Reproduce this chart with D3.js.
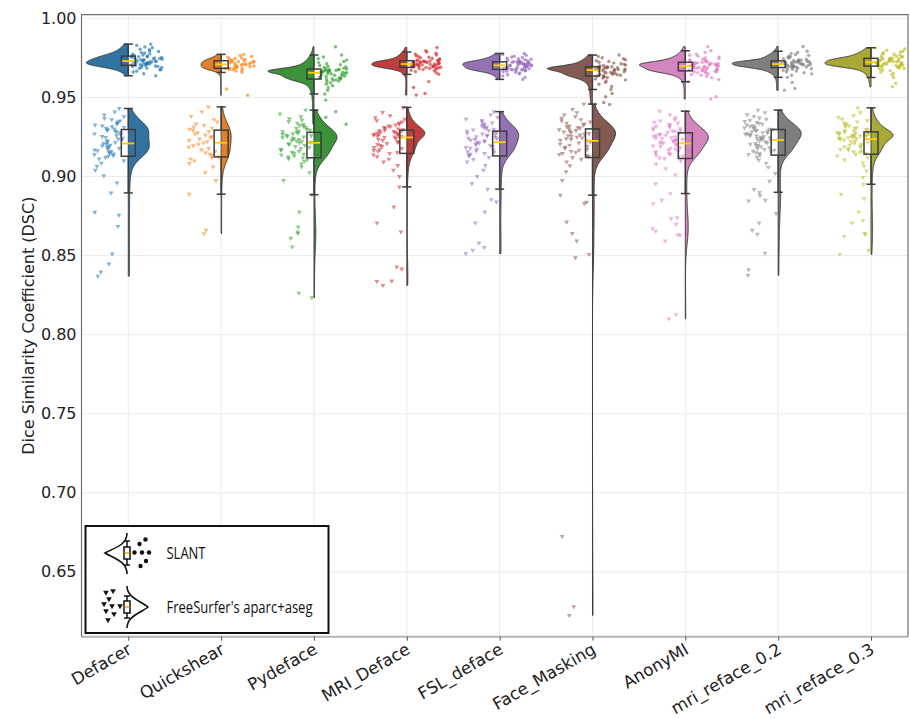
<!DOCTYPE html>
<html>
<head>
<meta charset="utf-8">
<script src="https://cdn.jsdelivr.net/npm/d3@7"></script>
<style>
body { margin: 0; background: #fff; }
text { font-family: "DejaVu Sans", sans-serif; }
</style>
</head>
<body>
<svg id="chart" width="910" height="719"></svg>
<script>
// categories + ticks
var methods = ["Defacer", "Quickshear", "Pydeface", "MRI_Deface", "FSL_deface",
               "Face_Masking", "AnonyMI", "mri_reface_0.2", "mri_reface_0.3"];
var yTicks = [0.65, 0.70, 0.75, 0.80, 0.85, 0.90, 0.95, 1.00];

// SLANT dice per subject (read off the cloud, approx)
var slantDefacer = [.9637,.9650,.9661,.9666,.9674,.9677,.9683,.9685,.9690,.9691,.9695,.9696,.9699,.9701,.9702,.9703,
  .9705,.9708,.9709,.9711,.9712,.9715,.9716,.9717,.9720,.9721,.9723,.9724,.9726,.9727,.9730,
  .9731,.9734,.9735,.9738,.9739,.9742,.9743,.9746,.9747,.9750,.9753,.9754,.9757,.9758,.9761,
  .9762,.9766,.9768,.9773,.9775,.9781,.9783,.9790,.9793,.9801,.9805,.9814,.9819,.9829,.9837];
var slantQuickshear = [.9514,.9553,.9658,.9666,.9671,.9675,.9678,.9680,.9682,.9683,.9684,
  .9687,.9689,.9692,.9694,.9697,.9699,.9702,.9704,.9706,.9709,
  .9711,.9713,.9716,.9718,.9720,.9722,.9725,.9727,.9729,.9732,
  .9734,.9737,.9740,.9743,.9746,.9750,.9754,.9759,.9765,.9772];
var slantPydeface = [.9330,.9375,.9410,.9483,.9522,.9545,.9562,.9574,.9584,.9592,.9599,.9604,.9608,.9611,.9614,.9616,
  .9619,.9621,.9624,.9627,.9629,.9632,.9635,.9637,.9640,.9643,.9645,.9648,.9651,.9653,.9656,
  .9657,.9659,.9661,.9662,.9664,.9665,.9667,.9668,.9670,.9671,.9673,.9674,.9676,.9677,.9679,
  .9682,.9685,.9689,.9693,.9697,.9702,.9707,.9713,.9720,.9727,.9736,.9745,.9756,.9768,.9820];
var slantMRIDeface = [.9515,.9525,.9563,.9600,.9646,.9656,.9663,.9668,.9672,.9676,.9679,.9682,.9684,.9686,.9688,.9690,
  .9691,.9693,.9694,.9696,.9697,.9699,.9700,.9701,.9703,.9704,.9706,.9707,.9708,.9710,.9711,
  .9712,.9714,.9715,.9717,.9718,.9720,.9721,.9722,.9724,.9725,.9727,.9728,.9729,.9731,.9732,
  .9734,.9737,.9740,.9743,.9746,.9750,.9754,.9758,.9763,.9768,.9774,.9780,.9787,.9795,.9816];
var slantFSL = [.9614,.9627,.9636,.9643,.9649,.9654,.9658,.9662,.9665,.9668,.9670,.9672,.9674,.9675,.9676,.9677,
  .9679,.9681,.9682,.9684,.9686,.9688,.9689,.9691,.9693,.9695,.9696,.9698,.9700,.9701,.9703,
  .9704,.9706,.9707,.9709,.9710,.9712,.9713,.9715,.9716,.9718,.9719,.9721,.9722,.9724,.9725,
  .9726,.9728,.9730,.9732,.9735,.9738,.9741,.9744,.9748,.9752,.9756,.9761,.9766,.9772,.9778];
var slantFaceMask = [.9455,.9468,.9504,.9525,.9550,.9569,.9583,.9595,.9604,.9611,.9617,.9622,.9626,.9630,.9633,.9635,
  .9638,.9640,.9643,.9645,.9648,.9650,.9653,.9655,.9658,.9660,.9663,.9665,.9668,.9670,.9673,
  .9674,.9676,.9677,.9679,.9680,.9681,.9683,.9684,.9686,.9687,.9688,.9690,.9691,.9693,.9694,
  .9696,.9699,.9702,.9705,.9709,.9713,.9717,.9722,.9727,.9732,.9738,.9744,.9751,.9759,.9768];
var slantAnonyMI = [.9490,.9504,.9599,.9614,.9625,.9633,.9640,.9645,.9650,.9654,.9657,.9660,.9662,.9664,.9666,.9668,
  .9670,.9672,.9674,.9676,.9678,.9680,.9682,.9684,.9686,.9688,.9690,.9692,.9694,.9696,.9698,
  .9700,.9701,.9703,.9704,.9706,.9708,.9709,.9711,.9712,.9714,.9716,.9717,.9719,.9720,.9722,
  .9724,.9727,.9730,.9733,.9737,.9741,.9745,.9750,.9755,.9761,.9767,.9774,.9784,.9795,.9820];
var slantReface2 = [.9546,.9557,.9595,.9627,.9640,.9649,.9656,.9662,.9667,.9671,.9675,.9678,.9681,.9684,.9687,.9689,
  .9691,.9692,.9694,.9695,.9697,.9698,.9700,.9701,.9703,.9704,.9706,.9707,.9708,.9710,.9711,
  .9712,.9714,.9715,.9716,.9718,.9719,.9720,.9722,.9723,.9724,.9726,.9727,.9728,.9730,.9731,
  .9733,.9736,.9739,.9742,.9745,.9749,.9753,.9757,.9761,.9766,.9771,.9777,.9784,.9792,.9822];
var slantReface3 = [.9567,.9590,.9626,.9642,.9653,.9661,.9668,.9674,.9679,.9683,.9687,.9690,.9692,.9694,.9696,.9698,
  .9700,.9701,.9703,.9704,.9706,.9708,.9709,.9711,.9712,.9714,.9716,.9717,.9719,.9720,.9722,
  .9724,.9725,.9727,.9729,.9730,.9732,.9734,.9735,.9737,.9739,.9740,.9742,.9744,.9745,.9747,
  .9749,.9752,.9755,.9758,.9761,.9765,.9769,.9773,.9777,.9782,.9787,.9792,.9798,.9806,.9814];

// FreeSurfer aparc+aseg dice
var fsDefacer = [.8370,.8396,.8447,.8510,.8685,.8755,.8774,
  .8896,.8960,.9005,.9040,.9065,.9085,.9100,.9112,.9121,.9128,
  .9133,.9138,.9143,.9148,.9153,.9158,.9163,.9168,.9173,.9179,.9184,.9189,.9194,.9199,.9204,.9209,
  .9215,.9220,.9226,.9231,.9237,.9242,.9248,.9253,.9259,.9264,.9270,.9275,.9281,.9286,.9292,.9297,
  .9301,.9305,.9310,.9315,.9320,.9326,.9332,.9338,.9345,.9352,.9360,.9368,.9378,.9390,.9408,.9430];
var fsQuickshear = [.8639,.8660,
  .8888,.8975,.9025,.9060,.9083,.9099,.9110,.9118,.9124,
  .9133,.9142,.9151,.9160,.9169,.9177,.9186,.9195,.9204,.9213,
  .9221,.9229,.9237,.9245,.9253,.9261,.9269,.9277,.9285,.9293,
  .9299,.9306,.9314,.9323,.9333,.9345,.9360,.9382,.9410,.9440];
var fsPydeface = [.8234,.8263,.8555,.8610,.8640,.8650,.8680,.8776,
  .8885,.8975,.9025,.9060,.9080,.9096,.9106,.9113,.9118,
  .9124,.9130,.9136,.9142,.9148,.9154,.9160,.9166,.9172,.9178,.9184,.9190,.9196,.9202,.9207,.9213,
  .9217,.9221,.9225,.9229,.9234,.9238,.9242,.9246,.9250,.9254,.9258,.9262,.9266,.9270,.9275,.9279,
  .9283,.9288,.9293,.9298,.9304,.9310,.9316,.9323,.9330,.9338,.9347,.9356,.9366,.9378,.9396,.9420];
var fsMRIDeface = [.8312,.8337,.8340,.8415,.8428,.8650,.8706,.8808,
  .8934,.9000,.9040,.9070,.9092,.9110,.9125,.9137,.9146,
  .9152,.9159,.9165,.9171,.9178,.9184,.9190,.9197,.9203,.9209,.9215,.9222,.9228,.9234,.9241,.9247,
  .9250,.9253,.9256,.9259,.9262,.9264,.9267,.9270,.9273,.9276,.9279,.9282,.9285,.9287,.9290,.9293,
  .9297,.9301,.9305,.9310,.9315,.9320,.9326,.9332,.9338,.9345,.9353,.9362,.9372,.9384,.9405,.9437];
var fsFSL = [.8513,.8534,.8551,.8580,.8706,.8776,.8839,.8854,
  .8920,.8956,.9000,.9040,.9070,.9092,.9108,.9121,.9130,
  .9135,.9141,.9146,.9152,.9157,.9162,.9168,.9173,.9179,.9184,.9190,.9195,.9201,.9206,.9212,.9217,
  .9221,.9226,.9230,.9234,.9239,.9243,.9248,.9252,.9256,.9261,.9265,.9269,.9274,.9278,.9283,.9287,
  .9291,.9295,.9299,.9304,.9309,.9314,.9320,.9326,.9332,.9339,.9346,.9354,.9363,.9374,.9390,.9410];
var fsFaceMask = [.6225,.6280,.6725,.8487,.8508,.8592,.8640,.8713,.8830,.8838,
  .8882,.8975,.9030,.9068,.9093,.9109,.9120,
  .9127,.9133,.9140,.9146,.9153,.9159,.9166,.9172,.9179,.9186,.9192,.9199,.9205,.9212,.9218,.9225,
  .9230,.9234,.9239,.9244,.9249,.9253,.9258,.9263,.9268,.9272,.9277,.9282,.9287,.9291,.9296,.9301,
  .9305,.9310,.9315,.9320,.9326,.9332,.9338,.9345,.9352,.9360,.9369,.9379,.9390,.9404,.9425,.9458];
var fsAnonyMI = [.8100,.8127,.8592,.8629,.8631,.8654,.8671,.8698,.8734,.8740,.8829,.8850,
  .8892,.8954,.9010,.9050,.9078,.9098,.9114,
  .9119,.9124,.9130,.9135,.9140,.9146,.9151,.9156,.9161,.9167,.9172,.9177,.9183,.9188,.9193,.9198,.9204,.9209,
  .9213,.9217,.9220,.9224,.9228,.9231,.9235,.9239,.9242,.9246,.9250,.9254,.9257,.9261,.9265,.9268,.9272,.9276,
  .9280,.9284,.9288,.9292,.9297,.9302,.9307,.9312,.9318,.9324,.9330,.9337,.9344,.9352,.9361,.9372,.9390,.9413];
var fsReface2 = [.8375,.8411,.8516,.8635,.8660,.8706,.8766,.8846,.8850,.8880,
  .8900,.8918,.8970,.9020,.9058,.9085,.9105,.9122,.9135,
  .9140,.9146,.9151,.9156,.9161,.9167,.9172,.9177,.9182,.9188,.9193,.9198,.9204,.9209,.9214,.9219,.9225,.9230,
  .9234,.9237,.9241,.9245,.9249,.9252,.9256,.9260,.9263,.9267,.9271,.9275,.9278,.9282,.9286,.9289,.9293,.9297,
  .9300,.9304,.9308,.9312,.9316,.9321,.9326,.9331,.9336,.9342,.9348,.9355,.9362,.9370,.9380,.9391,.9404,.9420];
var fsReface3 = [.8508,.8534,.8622,.8635,.8640,.8706,.8723,.8776,.8860,.8888,
  .8951,.8995,.9035,.9065,.9088,.9105,.9119,.9131,.9141,
  .9146,.9152,.9157,.9162,.9167,.9173,.9178,.9183,.9188,.9194,.9199,.9204,.9210,.9215,.9220,.9225,.9231,.9236,
  .9239,.9241,.9244,.9246,.9249,.9251,.9254,.9257,.9259,.9262,.9264,.9267,.9269,.9272,.9274,.9277,.9279,.9282,
  .9286,.9290,.9294,.9299,.9304,.9309,.9314,.9320,.9326,.9332,.9339,.9346,.9354,.9363,.9373,.9386,.9405,.9434];

var slant = [slantDefacer, slantQuickshear, slantPydeface, slantMRIDeface, slantFSL,
             slantFaceMask, slantAnonyMI, slantReface2, slantReface3];
var freesurfer = [fsDefacer, fsQuickshear, fsPydeface, fsMRIDeface, fsFSL,
                  fsFaceMask, fsAnonyMI, fsReface2, fsReface3];

// layout
var plot = {left: 81.5, right: 908, top: 14.7, bottom: 636.7};
var topHalfW = [42, 20, 46, 35, 37, 45, 46, 46, 46];   // px, violin peak widths
var botHalfW = [21, 10, 23, 18, 19, 23, 23, 23, 22];
var boxHalf = 7, capHalf = 4.5;

var svg = d3.select("#chart");
var x = d3.scalePoint().domain(methods).range([128.3, 871]);
var y = d3.scaleLinear().domain([0.609, 1.0023]).range([plot.bottom, plot.top]);

var pointColor = d3.schemeCategory10;
function desat(c) { var h = d3.hsl(c); h.s *= 0.75; return h.formatHex(); }

// deterministic jitter
function jit(i, g) {
  var h = (Math.imul(i + 1, 374761393) + Math.imul(g + 7, 668265263)) | 0;
  h = Math.imul(h ^ (h >>> 13), 1274126177);
  h ^= h >>> 16;
  return (h >>> 0) / 4294967296;
}

function gauss(z) { return Math.exp(-0.5 * z * z); }

// adaptive gaussian kde, cut at data range
function kde(vals) {
  var s = vals.slice().sort(d3.ascending), n = s.length;
  var sd = d3.deviation(s);
  var iqr = d3.quantile(s, 0.75) - d3.quantile(s, 0.25);
  var bw = 0.9 * Math.min(sd, iqr / 1.34) * Math.pow(n, -0.2);
  var pilot = s.map(function(p) {
    return d3.sum(s, function(v) { return gauss((p - v) / bw); }) / (n * bw);
  });
  var gm = Math.exp(d3.mean(pilot, function(p) { return Math.log(p); }));
  var hs = pilot.map(function(p) { return bw * Math.min(8, Math.pow(gm / p, 0.65)); });
  var lo = s[0], hi = s[n - 1];
  return d3.range(0, 301).map(function(i) {
    var g = lo + (hi - lo) * i / 300;
    return [g, d3.sum(s, function(v, k) { return gauss((g - v) / hs[k]) / hs[k]; }) / n];
  });
}

function boxStats(vals) {
  var s = vals.slice().sort(d3.ascending);
  var q1 = d3.quantile(s, 0.25), med = d3.quantile(s, 0.5), q3 = d3.quantile(s, 0.75);
  var iqr = q3 - q1;
  var lo = d3.min(s.filter(function(v) { return v >= q1 - 1.5 * iqr; }));
  var hi = d3.max(s.filter(function(v) { return v <= q3 + 1.5 * iqr; }));
  return {q1: q1, med: med, q3: q3, lo: lo, hi: hi};
}

// grid
var grid = svg.append("g");
grid.selectAll("line.h").data(yTicks).enter().append("line")
  .attr("x1", plot.left).attr("x2", plot.right)
  .attr("y1", function(d) { return y(d); }).attr("y2", function(d) { return y(d); })
  .style("stroke", "#ebebeb").style("stroke-width", 1);
grid.selectAll("line.v").data(methods).enter().append("line")
  .attr("y1", plot.top).attr("y2", plot.bottom)
  .attr("x1", function(d) { return x(d); }).attr("x2", function(d) { return x(d); })
  .style("stroke", "#ebebeb").style("stroke-width", 1);

// violins
var vg = svg.append("g");
function drawViolin(vals, i, side, halfW) {
  var dens = kde(vals);
  var cx = x(methods[i]);
  var w = d3.scaleLinear().domain([0, d3.max(dens, function(d) { return d[1]; })]).range([0, halfW]);
  var area = d3.area()
    .y(function(d) { return y(d[0]); })
    .x0(cx)
    .x1(function(d) { return cx + side * w(d[1]); });
  vg.append("path").attr("d", area(dens))
    .style("fill", desat(pointColor[i]))
    .style("stroke", "#3a3a3a").style("stroke-width", 1);
}
slant.forEach(function(v, i) { drawViolin(v, i, -1, topHalfW[i]); });
freesurfer.forEach(function(v, i) { drawViolin(v, i, 1, botHalfW[i]); });

// rain (points)
var pg = svg.append("g");
slant.forEach(function(vals, i) {
  var cx = x(methods[i]);
  pg.append("g").selectAll("circle").data(vals).enter().append("circle")
    .attr("cx", function(d, j) { return cx + 3 + 31 * jit(j, i * 2); })
    .attr("cy", function(d) { return y(d); })
    .attr("r", 1.7)
    .style("fill", pointColor[i]).style("fill-opacity", 0.65);
});
var tri = d3.symbol().type(d3.symbolTriangle).size(10);
freesurfer.forEach(function(vals, i) {
  var cx = x(methods[i]);
  pg.append("g").selectAll("path").data(vals).enter().append("path")
    .attr("d", tri)
    .attr("transform", function(d, j) {
      return "translate(" + (cx - 2 - 32 * jit(j, i * 2 + 1)) + "," + y(d) + ") rotate(180)";
    })
    .style("fill", pointColor[i]).style("fill-opacity", 0.55);
});

// boxes
var bg = svg.append("g");
function drawBox(vals, i) {
  var b = boxStats(vals), cx = x(methods[i]);
  var g = bg.append("g").style("stroke", "#3d3d3d").style("stroke-width", 1.5).style("fill", "none");
  g.append("line").attr("x1", cx).attr("x2", cx).attr("y1", y(b.q3)).attr("y2", y(b.hi));
  g.append("line").attr("x1", cx).attr("x2", cx).attr("y1", y(b.q1)).attr("y2", y(b.lo));
  g.append("line").attr("x1", cx - capHalf).attr("x2", cx + capHalf).attr("y1", y(b.hi)).attr("y2", y(b.hi));
  g.append("line").attr("x1", cx - capHalf).attr("x2", cx + capHalf).attr("y1", y(b.lo)).attr("y2", y(b.lo));
  g.append("rect").attr("x", cx - boxHalf).attr("width", boxHalf * 2)
    .attr("y", y(b.q3)).attr("height", y(b.q1) - y(b.q3));
  g.append("line").attr("x1", cx - boxHalf + 1).attr("x2", cx + boxHalf - 1)
    .attr("y1", y(b.med)).attr("y2", y(b.med))
    .style("stroke", "#ffcc00").style("stroke-width", 1.8);
}
slant.forEach(drawBox);
freesurfer.forEach(drawBox);

// frame
svg.append("line").attr("x1", plot.left).attr("x2", plot.right).attr("y1", plot.bottom).attr("y2", plot.bottom)
  .style("stroke", "#b4b4b4").style("stroke-width", 2);
svg.append("path")
  .attr("d", "M" + plot.left + "," + plot.bottom + "V" + plot.top + "H" + plot.right + "V" + plot.bottom)
  .style("fill", "none").style("stroke", "#707070").style("stroke-width", 1.2);

// y axis
var yAxis = svg.append("g").attr("transform", "translate(" + plot.left + ",0)")
  .call(d3.axisLeft(y).tickValues(yTicks).tickFormat(d3.format(".2f")).tickSize(0).tickPadding(5));
yAxis.select(".domain").remove();
yAxis.selectAll("text").style("font-size", "16px").style("fill", "#222");

// x axis
var xAxis = svg.append("g").attr("transform", "translate(0," + plot.bottom + ")")
  .call(d3.axisBottom(x).tickSize(4));
xAxis.select(".domain").remove();
xAxis.selectAll("line").style("stroke", "#555");
xAxis.selectAll("text")
  .attr("y", null).attr("dy", null)
  .attr("text-anchor", "end")
  .attr("transform", "translate(4,16) rotate(-30)")
  .style("font-size", "16.8px").style("fill", "#222");

svg.append("text")
  .attr("transform", "translate(34," + (plot.top + plot.bottom) / 2 + ") rotate(-90)")
  .attr("text-anchor", "middle")
  .style("font-size", "16px").style("fill", "#222")
  .text("Dice Similarity Coefficient (DSC)");

// legend (drawn glyphs)
var lg = svg.append("g");
lg.append("rect").attr("x", 85.5).attr("y", 526).attr("width", 243).attr("height", 107)
  .style("fill", "#fff").style("stroke", "#111").style("stroke-width", 2);
var ink = "#111";
lg.append("path").attr("d", "M127,533 C127,546 113,548 105,553 C113,558 127,561 127,574")
  .style("fill", "none").style("stroke", ink).style("stroke-width", 1.6);
lg.append("path").attr("d", "M127,586 C127,598 141,601 148,607 C141,613 127,616 127,628")
  .style("fill", "none").style("stroke", ink).style("stroke-width", 1.6);
[[553, 541, 565, 547, 559], [607, 596, 618, 601, 613]].forEach(function(r) {
  var g = lg.append("g").style("stroke", ink).style("stroke-width", 1.5).style("fill", "#fff");
  g.append("line").attr("x1", 127).attr("x2", 127).attr("y1", r[1]).attr("y2", r[2]);
  g.append("line").attr("x1", 124).attr("x2", 130).attr("y1", r[1]).attr("y2", r[1]);
  g.append("line").attr("x1", 124).attr("x2", 130).attr("y1", r[2]).attr("y2", r[2]);
  g.append("rect").attr("x", 124).attr("y", r[3]).attr("width", 6).attr("height", r[4] - r[3]);
  g.append("line").attr("x1", 124.5).attr("x2", 129.5).attr("y1", r[0]).attr("y2", r[0])
    .style("stroke", "#f0a800");
});
var legDots = [[134.5, 552.5], [139.5, 544], [145.5, 539.5], [142, 552.5], [149, 552.5], [146, 561], [140.5, 566]];
lg.selectAll("circle").data(legDots).enter().append("circle")
  .attr("cx", function(d) { return d[0]; }).attr("cy", function(d) { return d[1]; })
  .attr("r", 2.2).style("fill", ink);
var legTri = [[106, 592.5], [113, 591], [109, 599], [104, 604], [112, 606], [120, 606], [106, 611], [114, 614], [108, 620]];
lg.selectAll("path.t").data(legTri).enter().append("path")
  .attr("d", d3.symbol().type(d3.symbolTriangle).size(14))
  .attr("transform", function(d) { return "translate(" + d[0] + "," + d[1] + ") rotate(180)"; })
  .style("fill", ink);
lg.append("text").attr("x", 166.5).attr("y", 558.5)
  .attr("textLength", 39).attr("lengthAdjust", "spacingAndGlyphs")
  .style("font-family", "'Open Sans', sans-serif").style("font-size", "15.5px").style("fill", "#111")
  .text("SLANT");
lg.append("text").attr("x", 166.5).attr("y", 612.5)
  .attr("textLength", 146).attr("lengthAdjust", "spacingAndGlyphs")
  .style("font-family", "'Open Sans', sans-serif").style("font-size", "15.5px").style("fill", "#111")
  .text("FreeSurfer's aparc+aseg");
</script>
</body>
</html>
